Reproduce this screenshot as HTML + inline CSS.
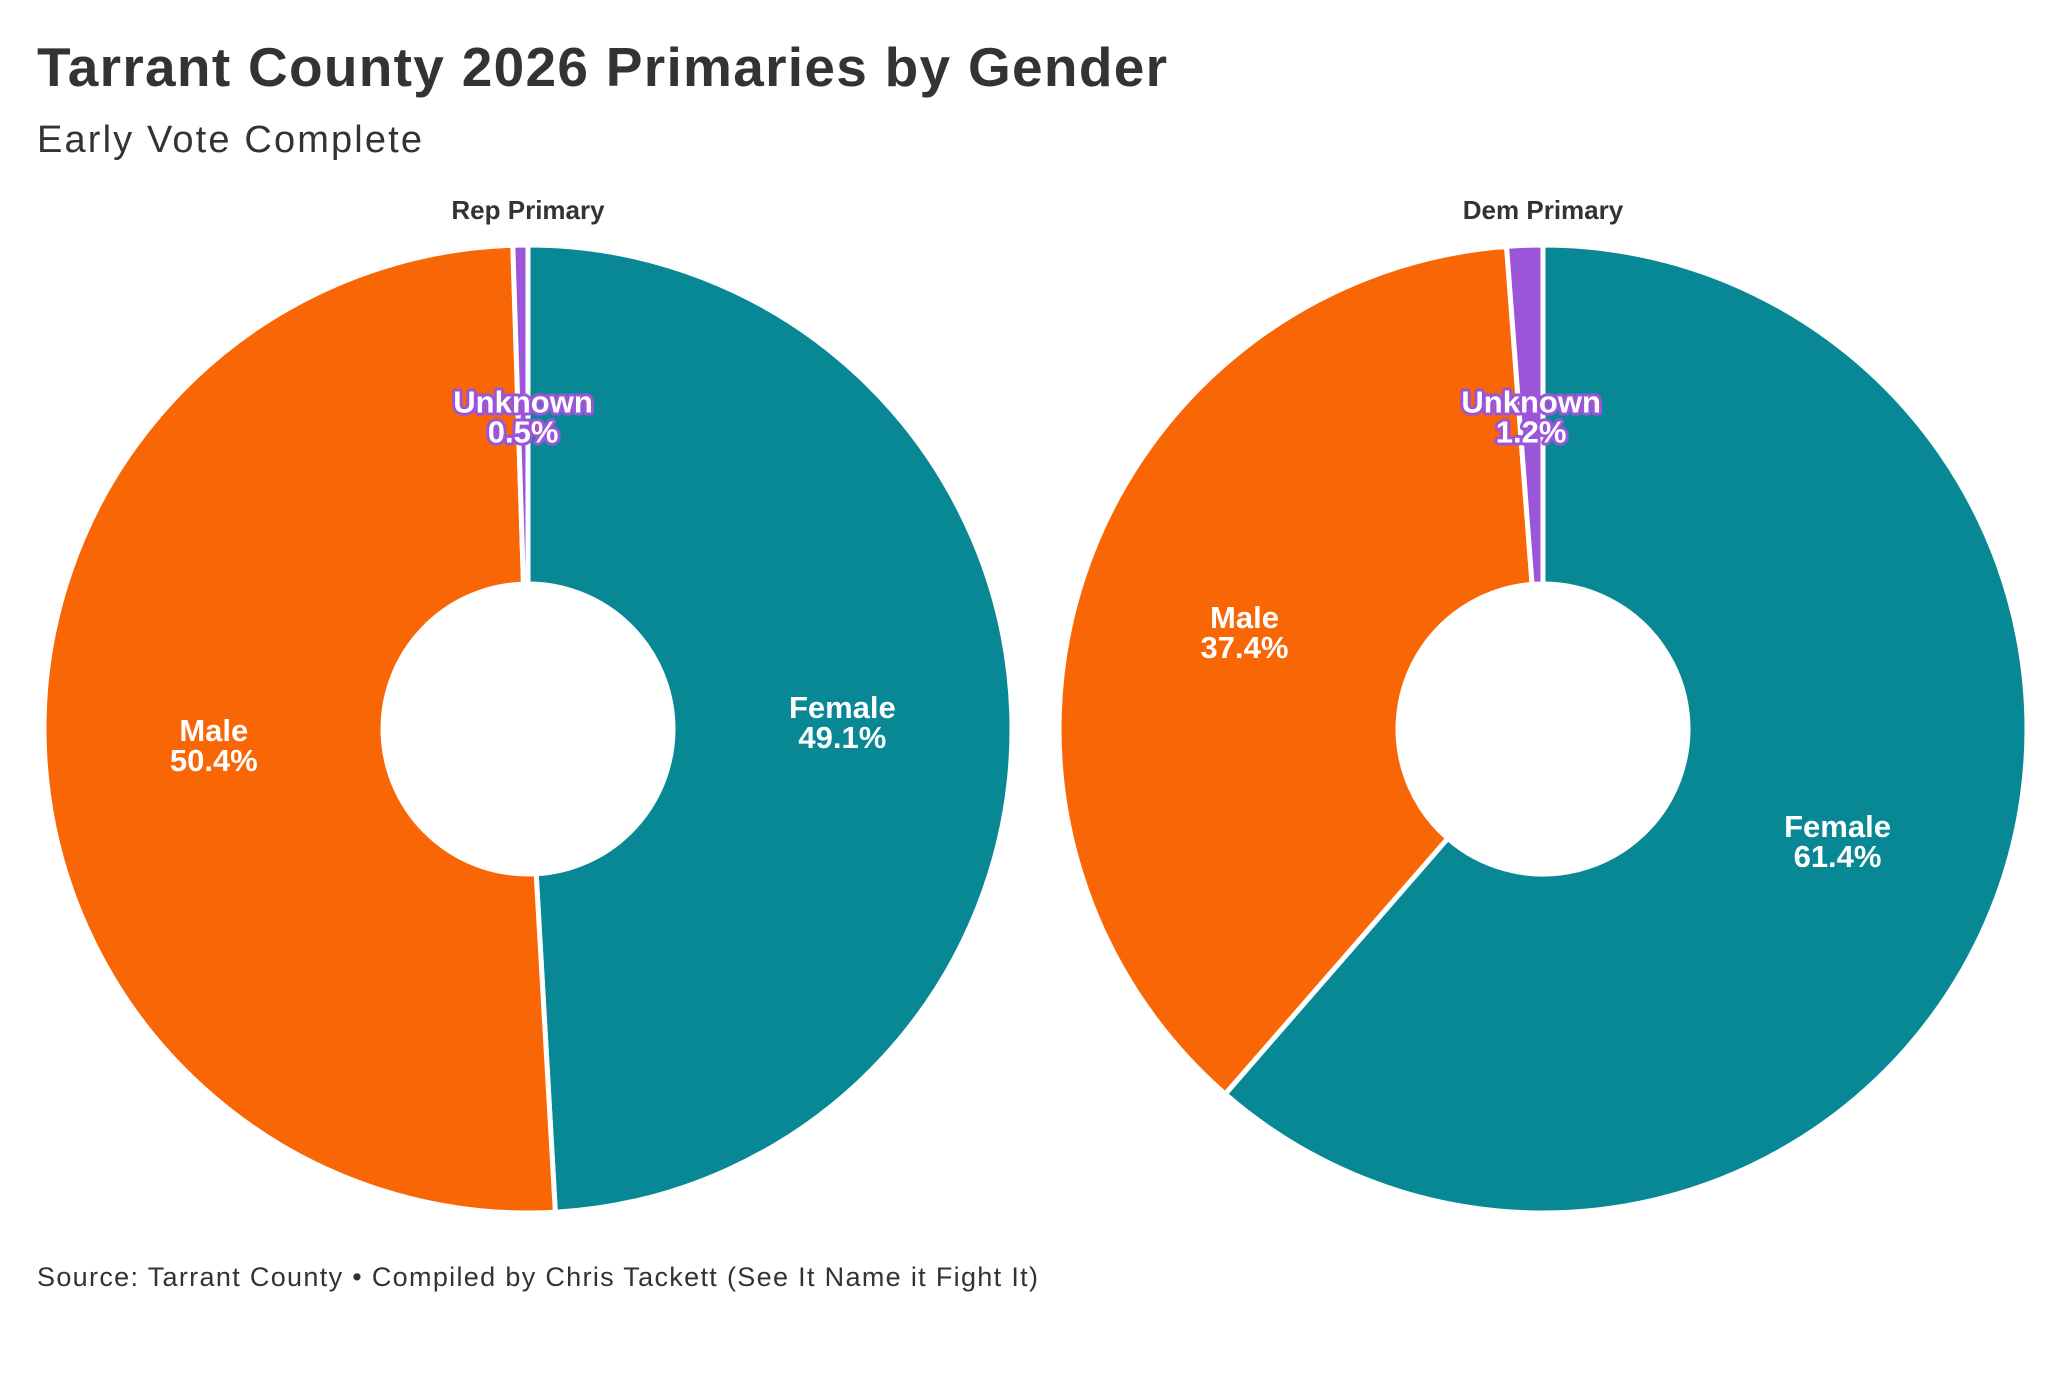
<!DOCTYPE html>
<html><head><meta charset="utf-8"><style>
body{margin:0;background:#fff;}
svg{display:block;}
text{font-family:"Liberation Sans",sans-serif;}
</style></head><body>
<svg id="chart" width="2068" height="1376" viewBox="0 0 2068 1376">
<text x="37" y="86" font-size="55" font-weight="bold" fill="#333" textLength="1130" lengthAdjust="spacing">Tarrant County 2026 Primaries by Gender</text>
<text x="37" y="152" font-size="38" fill="#333" textLength="385" lengthAdjust="spacing">Early Vote Complete</text>
<text x="37" y="1286" font-size="27" fill="#333" textLength="1001" lengthAdjust="spacing">Source: Tarrant County • Compiled by Chris Tackett (See It Name it Fight It)</text>
<g id="pies"></g>
</svg>
<script>
const categories = ["Female", "Male", "Unknown"];
const repValues = [49.1, 50.4, 0.5];
const demValues = [61.4, 37.4, 1.2];
const panelTitles = ["Rep Primary", "Dem Primary"];
const colors = ["#088895", "#F96605", "#9B55D9"];
const NS = "http://www.w3.org/2000/svg";
const g = document.getElementById("pies");
const RO = 484, RI = 145;
function pt(cx, cy, r, a){ return [cx + r*Math.sin(a), cy - r*Math.cos(a)]; }
function drawPie(values, cx, cy, title, key){
  const t = document.createElementNS(NS, "text");
  t.setAttribute("x", cx); t.setAttribute("y", 219);
  t.setAttribute("text-anchor", "middle"); t.setAttribute("font-size", "26");
  t.setAttribute("font-weight", "bold"); t.setAttribute("fill", "#333");
  t.textContent = title;
  
  
  g.appendChild(t);
  const total = values.reduce((a,b)=>a+b, 0);
  let a0 = 0;
  values.forEach((v, i) => {
    const a1 = a0 + v/total*2*Math.PI;
    const large = (a1 - a0) > Math.PI ? 1 : 0;
    const [x1,y1] = pt(cx,cy,RO,a0), [x2,y2] = pt(cx,cy,RO,a1);
    const [x3,y3] = pt(cx,cy,RI,a1), [x4,y4] = pt(cx,cy,RI,a0);
    const p = document.createElementNS(NS, "path");
    p.setAttribute("d", `M${x1},${y1} A${RO},${RO} 0 ${large} 1 ${x2},${y2} L${x3},${y3} A${RI},${RI} 0 ${large} 0 ${x4},${y4} Z`);
    p.setAttribute("fill", colors[i]); p.setAttribute("stroke", "#fff");
    p.setAttribute("stroke-width", "5"); p.setAttribute("stroke-linejoin", "round");
    
    
    g.appendChild(p);
    const mid = (a0 + a1)/2;
    const [lx, ly] = pt(cx, cy, (RO+RI)/2, mid);
    const lab = document.createElementNS(NS, "text");
    lab.setAttribute("x", lx); lab.setAttribute("text-anchor", "middle");
    lab.setAttribute("font-size", "31"); lab.setAttribute("font-weight", "bold");
    lab.setAttribute("fill", "#fff");
    if (categories[i] === "Unknown") {
      lab.setAttribute("stroke", colors[i]); lab.setAttribute("stroke-width", "6");
      lab.setAttribute("paint-order", "stroke"); lab.setAttribute("stroke-linejoin", "round");
    }
    const s1 = document.createElementNS(NS, "tspan");
    s1.setAttribute("x", lx); s1.setAttribute("y", ly - 2); s1.textContent = categories[i];
    const s2 = document.createElementNS(NS, "tspan");
    s2.setAttribute("x", lx); s2.setAttribute("y", ly + 28); s2.textContent = v.toFixed(1) + "%";
    lab.appendChild(s1); lab.appendChild(s2);
    
    
    g.appendChild(lab);
    a0 = a1;
  });
}
drawPie(repValues, 528, 729, panelTitles[0], "rep");
drawPie(demValues, 1543, 729, panelTitles[1], "dem");
</script>
</body></html>
